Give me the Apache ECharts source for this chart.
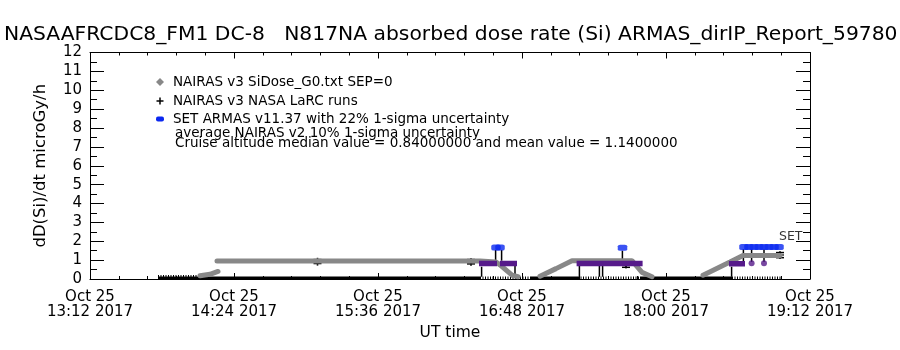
<!DOCTYPE html>
<html><head><meta charset="utf-8">
<script src="https://cdn.jsdelivr.net/npm/echarts@6/dist/echarts.min.js"></script>
<style>html,body{margin:0;padding:0;background:#fff}#c{width:900px;height:350px}</style>
</head><body><div id="c"></div>
<script>
// ---- data (x = minutes after Oct 25 2017 13:12 UT, y = microGy/h) ----
const tickLabels = ['13:12', '14:24', '15:36', '16:48', '18:00', '19:12'];
const dateLabel = 'Oct 25';
const yearLabel = '2017';
const yTicks = [0,1,2,3,4,5,6,7,8,9,10,11,12];

// NAIRAS v3 SiDose_G0 (dense diamond symbols)
const nairasV3 = [[55,0.17],[60,0.25],[64,0.4],[64,'-'],
  [63.5,0.95],[195,0.95],[203,0.9],[205,0.75],[211,0.2],[214,0.12],[215,'-'],
  [225,0.15],[233,0.55],[241,0.97],[271,0.97],[274,0.6],[276,0.35],[281,0.12],[282,'-'],
  [306.5,0.2],[320,0.9],[326.5,1.25],[345,1.25]];
// near-zero readings on the ground / climb (solid and sparse parts)
const groundSolid = [[34,0.05],[195,0.05],[196,'-'],[220,0.05],[244,0.05],[245,'-'],[275,0.05],[321,0.05]];
const groundSparse = [[195,0.05],[220,0.05],[221,'-'],[244,0.05],[275,0.05],[276,'-'],[321,0.05],[346,0.05]];
const lowMarks = [[34,0.16],[55,0.16]];
// SET ARMAS v11.37
const armasTime = [203, 205, 266.25, 327, 329.5, 332, 334.5, 337, 339.5, 342, 344.5];
const armasDose = [1.67, 1.67, 1.66, 1.69, 1.69, 1.69, 1.69, 1.69, 1.69, 1.69, 1.69];
// average NAIRAS v2
const nairasV2 = [[194.5,0.82],[203.5,0.82],[204,'-'],[205,0.82],[213.5,0.82],[214,'-'],
  [243.3,0.82],[276.3,0.82],[277,'-'],[319.5,0.81],[327.5,0.81]];
const nairasV2Dots = [[330.8,0.83],[337,0.83]];
// vertical connectors [time, low, high]
const stems = [[195.8,0.12,0.65],[202.8,0.97,1.54],[205.8,0.97,1.54],[212.5,0.12,0.7],
  [244.7,0.12,0.69],[254.7,0.12,0.75],[256.3,0.12,0.69],[266.2,0.97,1.5],
  [320.8,0.12,0.65],[326.7,0.95,1.58],[330.8,0.9,1.58],[337,0.9,1.58]];
// NAIRAS v3 NASA LaRC runs
const larcTime = [113.75, 190.5, 268, 345];
const larcDose = [0.92, 0.9, 0.77, 1.27];
const larcLo = [0.82, 0.8, 0.62, 1.13];
const larcHi = [1.03, 1.03, 0.92, 1.4];
const setLabel = [[344.5, 2.23, 'SET']];

const titleText = 'NASAAFRCDC8_FM1 DC-8   N817NA absorbed dose rate (Si) ARMAS_dirIP_Report_59780';
const legendLines = ['NAIRAS v3 SiDose_G0.txt SEP=0', 'NAIRAS v3 NASA LaRC runs',
  'SET ARMAS v11.37 with 22% 1-sigma uncertainty', 'average NAIRAS v2 10% 1-sigma uncertainty',
  'Cruise altitude median value = 0.84000000 and mean value = 1.1400000'];

// ---- chart ----
const FONT = 'DejaVu Sans';
const GRAY = '#888888', PURPLE = '#561a8a', BLUE = '#0a28f0';
const chart = echarts.init(document.getElementById('c'));
function xLabel(v) { const i = Math.round(v / 72); return dateLabel + '\n' + tickLabels[i] + ' ' + yearLabel; }
const blk = {color: '#000', width: 1};
function xAx(pos, labels) {
  return {type: 'value', min: 0, max: 360, interval: 72, position: pos,
    axisLine: {show: true, onZero: false, lineStyle: blk},
    axisTick: {show: true, inside: true, length: 6, lineStyle: blk},
    minorTick: {show: true, splitNumber: 5, length: 3, lineStyle: blk},
    splitLine: {show: false}, minorSplitLine: {show: false},
    axisLabel: labels ? {formatter: xLabel, color: '#000', fontFamily: FONT, fontSize: 15, lineHeight: 15, margin: 11} : {show: false},
    name: labels ? 'UT time' : '', nameLocation: 'middle', nameGap: 45,
    nameTextStyle: {color: '#000', fontFamily: FONT, fontSize: 15.5}};
}
function yAx(pos, labels) {
  return {type: 'value', min: 0, max: 12, interval: 1, position: pos,
    axisLine: {show: true, onZero: false, lineStyle: blk},
    axisTick: {show: true, inside: true, length: 14, lineStyle: blk},
    minorTick: {show: true, splitNumber: 2, length: 7, lineStyle: blk},
    splitLine: {show: false}, minorSplitLine: {show: false},
    axisLabel: labels ? {color: '#000', fontFamily: FONT, fontSize: 15, margin: 8,
      formatter: v => String(yTicks[Math.round(v)])} : {show: false},
    name: labels ? 'dD(Si)/dt microGy/h' : '', nameLocation: 'middle', nameGap: 41,
    nameTextStyle: {color: '#000', fontFamily: FONT, fontSize: 16.5}};
}
function renderStem(params, api) {
  const a = api.coord([api.value(0), api.value(1)]);
  const b = api.coord([api.value(0), api.value(2)]);
  return {type: 'line', shape: {x1: a[0], y1: a[1], x2: b[0], y2: b[1]}, style: {stroke: '#000', lineWidth: 1.5}};
}
function renderErr(params, api) {
  const a = api.coord([api.value(0), api.value(1)]);
  const b = api.coord([api.value(0), api.value(2)]);
  const w = 4;
  const st = {stroke: '#000', lineWidth: 1.5};
  return {type: 'group', children: [
    {type: 'line', shape: {x1: a[0], y1: a[1], x2: b[0], y2: b[1]}, style: st},
    {type: 'line', shape: {x1: a[0] - w, y1: a[1], x2: a[0] + w, y2: a[1]}, style: st},
    {type: 'line', shape: {x1: b[0] - w, y1: b[1], x2: b[0] + w, y2: b[1]}, style: st}]};
}
const PLUS = 'path://M4,0H6V4H10V6H6V10H4V6H0V4H4Z';

const lx = 160, tx = 173, ly = [82, 101, 119, 133, 143];
const graphic = [
  {type: 'text', x: 4, y: 25, style: {text: titleText, font: '20.3px "' + FONT + '"', fill: '#000'}},
  {type: 'polygon', shape: {points: [[lx, ly[0] - 4], [lx + 4, ly[0]], [lx, ly[0] + 4], [lx - 4, ly[0]]]}, style: {fill: GRAY}},
  {type: 'rect', shape: {x: lx - 3.5, y: ly[1] - 0.75, width: 7, height: 1.5}, style: {fill: '#000'}},
  {type: 'rect', shape: {x: lx - 0.75, y: ly[1] - 3.5, width: 1.5, height: 7}, style: {fill: '#000'}},
  {type: 'rect', shape: {x: lx - 4, y: ly[2] - 2.5, width: 8, height: 5, r: 2}, style: {fill: BLUE}},
];
legendLines.forEach((t, i) => graphic.push({type: 'text', x: i < 3 ? tx : tx + 2, y: ly[i],
  style: {text: t, font: '13.5px "' + FONT + '"', fill: '#000', textVerticalAlign: 'middle'}}));

chart.setOption({
  animation: false, backgroundColor: '#fff',
  grid: {left: 90, right: 90, top: 52.5, bottom: 71},
  xAxis: [xAx('bottom', true), xAx('top', false)],
  yAxis: [yAx('left', true), yAx('right', false)],
  graphic: graphic,
  series: [
    {type: 'line', data: groundSolid, symbol: 'none', connectNulls: false, lineStyle: {color: '#000', width: 3}, silent: true},
    {type: 'line', data: groundSparse, symbol: 'none', connectNulls: false, lineStyle: {color: '#000', width: 3, type: [1, 1.5]}, silent: true},
    {type: 'line', data: lowMarks, symbol: 'none', lineStyle: {color: '#000', width: 2, type: [1, 1.5]}, silent: true},
    {type: 'line', data: nairasV3, symbol: 'none', connectNulls: false, lineStyle: {color: GRAY, width: 5, cap: 'round'}, silent: true},
    {type: 'line', data: nairasV2, symbol: 'none', connectNulls: false, lineStyle: {color: PURPLE, width: 5.5}, silent: true},
    {type: 'scatter', data: nairasV2Dots, symbol: 'circle', symbolSize: 6, itemStyle: {color: PURPLE}, silent: true},
    {type: 'custom', data: stems, renderItem: renderStem, silent: true},
    {type: 'custom', data: larcTime.map((t, i) => [t, larcLo[i], larcHi[i]]), renderItem: renderErr, silent: true},
    {type: 'scatter', data: larcTime.map((t, i) => [t, larcDose[i]]), symbol: PLUS, symbolSize: 8, itemStyle: {color: '#000'}, silent: true},
    {type: 'scatter', data: armasTime.map((t, i) => [t, armasDose[i]]), symbol: 'roundRect', symbolSize: [9.5, 6], itemStyle: {color: BLUE}, silent: true},
    {type: 'scatter', data: setLabel, symbolSize: 0, silent: true,
      label: {show: true, formatter: p => p.data[2], position: [0, 0], align: 'left', verticalAlign: 'middle',
        color: '#000', fontFamily: FONT, fontSize: 12.5}}
  ]
});
</script></body></html>
